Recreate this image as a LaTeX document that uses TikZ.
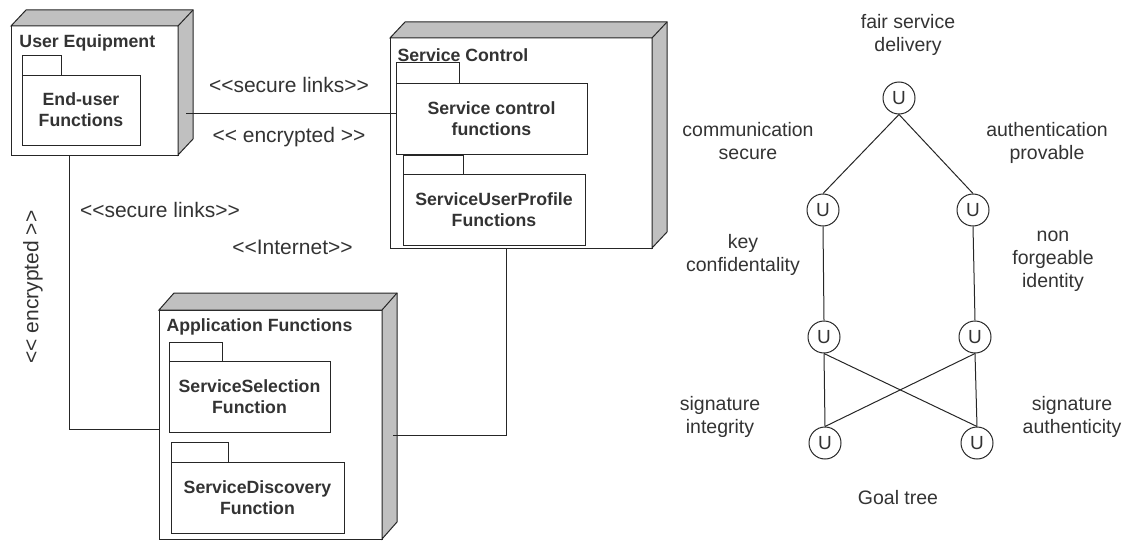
\documentclass[tikz,border=0pt]{standalone}
\usepackage{fontspec}
\setmainfont{Liberation Sans}[Ligatures=TeXOff]
\usetikzlibrary{positioning}

\definecolor{linegray}{HTML}{262626}
\definecolor{textgray}{HTML}{333333}
\definecolor{sidegray}{HTML}{C0C0C0}

% top and right faces of a node box
\newcommand{\nodedepth}[3]{%
  \filldraw[fill=sidegray] (#1.north west) -- ++(#2,-#3)
    -- ([shift={(#2,-#3)}]#1.north east) -- ([shift={(#2,-#3)}]#1.south east)
    -- (#1.south east) -- (#1.north east) -- cycle;
  \draw (#1.north east) -- ++(#2,-#3);
}

\begin{document}
\begin{tikzpicture}[x=1pt, y=-1pt, line width=1pt, color=linegray,
    front/.style={draw, fill=white, inner sep=0pt, outer sep=0pt},
    pkgbody/.style={draw, fill=white, inner sep=0pt, outer sep=0pt, align=center,
      font=\fontsize{17.7}{21}\selectfont\bfseries, text=textgray},
    pkgtab/.style={draw, fill=white, inner sep=0pt, outer sep=0pt, anchor=south west},
    title/.style={anchor=west, inner sep=0pt, font=\fontsize{17.7}{21}\selectfont\bfseries, text=textgray},
    stereo/.style={inner sep=0pt, font=\fontsize{21}{25}\selectfont, text=textgray},
    goal/.style={inner sep=0pt, align=center, font=\fontsize{19.5}{23}\selectfont, text=textgray},
    unode/.style={circle, draw, minimum size=32pt, inner sep=0pt,
      font=\fontsize{19}{23}\selectfont, text=textgray}]

    \useasboundingbox (0,0) rectangle (1124,543);

    \node[front, minimum width=167pt, minimum height=129pt] (ue) at (94.5,90.5) {};
    \nodedepth{ue}{15}{16}
    \node[title] (uetitle) at (19,43) {User Equipment};
    \node[pkgbody, minimum width=118pt, minimum height=70pt] (uefun) at (81,110) {End-user\\Functions};
    \node[pkgtab, minimum width=39pt, minimum height=19pt] (uetab) at (uefun.north west) {};

    \node[front, minimum width=262pt, minimum height=210pt] (sc) at (521,143) {};
    \nodedepth{sc}{15}{16}
    \node[title] (sctitle) at (397,55) {Service Control};
    \node[pkgbody, minimum width=191pt, minimum height=71pt] (scfun) at (491.5,118.5) {Service control\\functions};
    \node[pkgtab, minimum width=63pt, minimum height=20pt] (sctab) at (scfun.north west) {};
    \node[pkgbody, minimum width=182pt, minimum height=71pt] (supfun) at (494,209.5) {ServiceUserProfile\\Functions};
    \node[pkgtab, minimum width=60pt, minimum height=19pt] (suptab) at (supfun.north west) {};

    \node[front, minimum width=223pt, minimum height=229pt] (app) at (270.5,424.5) {};
    \nodedepth{app}{15}{17}
    \node[title] (apptitle) at (166,327) {Application Functions};
    \node[pkgbody, minimum width=161pt, minimum height=71pt] (selfun) at (249.5,396.5) {ServiceSelection\\Function};
    \node[pkgtab, minimum width=53pt, minimum height=19pt] (seltab) at (selfun.north west) {};
    \node[pkgbody, minimum width=173pt, minimum height=71pt] (disfun) at (257.5,497.5) {ServiceDiscovery\\Function};
    \node[pkgtab, minimum width=57pt, minimum height=20pt] (distab) at (disfun.north west) {};

    \draw ([xshift=8pt, yshift=-22.5pt]ue.east) coordinate (ueport) -- (ueport -| scfun.west);
    \draw ([xshift=-25.5pt]ue.south) |- ([yshift=-4.5pt]app.west);
    \draw ([xshift=-15pt]sc.south) |- ([xshift=11pt, yshift=-10.5pt]app.east);

    \node[stereo] (seclinks) at (289,85) {<<secure links>>};
    \node[stereo] (encr) at (289,137) {<< encrypted >>};
    \node[stereo] (seclinksb) at (160,210) {<<secure links>>};
    \node[stereo] (inet) at (292.5,247) {<<Internet>>};
    \node[stereo, rotate=90] (encrb) at (33,287) {<< encrypted >>};

    \node[unode] (g0) at (899,98) {U};
    \node[unode] (g1) at (823,210) {U};
    \node[unode] (g2) at (973,210) {U};
    \node[unode] (g3) at (824,337) {U};
    \node[unode] (g4) at (975,337) {U};
    \node[unode] (g5) at (825,443) {U};
    \node[unode] (g6) at (977,443) {U};
    \foreach \a/\b in {g0/g1, g0/g2, g1/g3, g2/g4, g3/g5, g3/g6, g4/g5, g4/g6}
        \draw (\a.south) -- (\b.north);

    \node[goal] (fair) at (908,35) {fair service\\delivery};
    \node[goal] (comm) at (748,141.5) {communication\\secure};
    \node[goal] (auth) at (1047,142.5) {authentication\\provable};
    \node[goal] (keyc) at (743,255) {key\\confidentality};
    \node[goal] (nonf) at (1053,261) {non\\forgeable\\identity};
    \node[goal] (sigi) at (720,417) {signature\\integrity};
    \node[goal] (siga) at (1072,417) {signature\\authenticity};
    \node[goal] (gtree) at (898,498) {Goal tree};

\end{tikzpicture}
\end{document}
